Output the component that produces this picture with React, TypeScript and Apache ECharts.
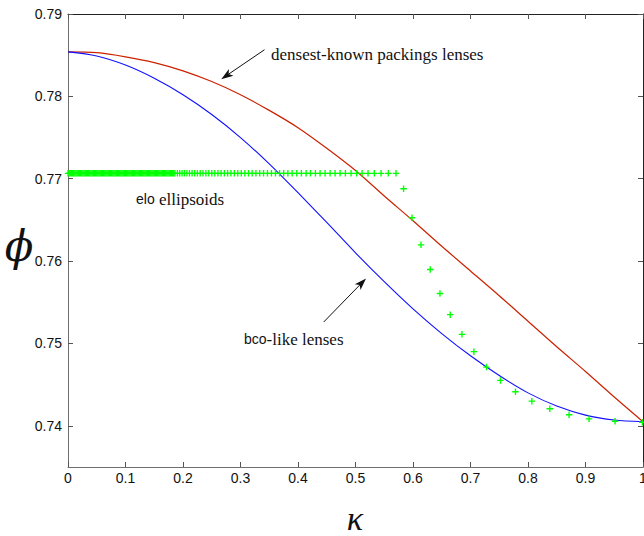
import React, { useEffect, useRef } from "react";
import * as echarts from "echarts";

// kappa grid for the two lens curves
const kappaGrid = [0, 0.05, 0.1, 0.15, 0.2, 0.25, 0.3, 0.35, 0.4, 0.45, 0.5, 0.55, 0.6, 0.65, 0.7, 0.75, 0.8, 0.85, 0.9, 0.95, 1.0];
// densest-known packings of lenses (red)
const densestLenses = [0.7854, 0.7853, 0.7848, 0.7841, 0.7831, 0.7818, 0.7802, 0.7783, 0.7762, 0.7737, 0.771, 0.7679, 0.7649, 0.7618, 0.7588, 0.7558, 0.7527, 0.7496, 0.7466, 0.7435, 0.7405];
// bco-like lenses (blue)
const bcoLenses = [0.7854, 0.7849, 0.7838, 0.7822, 0.7802, 0.7778, 0.775, 0.7718, 0.7683, 0.7647, 0.761, 0.7575, 0.7542, 0.7512, 0.7485, 0.7461, 0.744, 0.7424, 0.7413, 0.7407, 0.7405];

// elo ellipsoids (green +): flat plateau part
const eloPlateauPhi = 0.77065;
const eloPlateauKappa = [
  0, 0.002, 0.004, 0.006, 0.008, 0.01, 0.012, 0.014, 0.016, 0.018, 0.02, 0.022, 0.024, 0.026, 0.028, 0.03,
  0.032, 0.034, 0.036, 0.038, 0.04, 0.042, 0.044, 0.046, 0.048, 0.05, 0.052, 0.054, 0.056, 0.058, 0.06, 0.062,
  0.064, 0.066, 0.068, 0.07, 0.072, 0.074, 0.076, 0.078, 0.08, 0.082, 0.084, 0.086, 0.088, 0.09, 0.092, 0.094,
  0.096, 0.098, 0.1, 0.102, 0.104, 0.106, 0.108, 0.11, 0.112, 0.114, 0.116, 0.118, 0.12, 0.122, 0.124, 0.126,
  0.128, 0.13, 0.132, 0.134, 0.136, 0.138, 0.14, 0.142, 0.144, 0.146, 0.148, 0.15, 0.152, 0.154, 0.156, 0.158,
  0.16, 0.162, 0.164, 0.166, 0.168, 0.17, 0.172, 0.174, 0.176, 0.178, 0.18, 0.182, 0.184, 0.186,
  0.1903, 0.1943, 0.1984, 0.2026, 0.2069, 0.2113, 0.2158, 0.2204, 0.2251, 0.2299, 0.2348, 0.2398, 0.2449, 0.2501,
  0.2554, 0.2608, 0.2663, 0.2719, 0.2776, 0.2834, 0.2893, 0.2953, 0.3014, 0.3076, 0.3139, 0.3203, 0.3268, 0.3334,
  0.3401, 0.3469, 0.3538, 0.3608, 0.3679, 0.3751, 0.3824, 0.3898, 0.3978, 0.4059, 0.4141, 0.4216, 0.4303, 0.4384,
  0.4471, 0.4558, 0.4645, 0.4732, 0.4824, 0.4923, 0.502, 0.5114, 0.5218, 0.5327, 0.5444, 0.5571, 0.5704,
];
// elo ellipsoids: descending part
const eloTailKappa = [0.5836, 0.5982, 0.6139, 0.63, 0.6469, 0.6648, 0.6851, 0.7059, 0.7278, 0.7521, 0.7782, 0.8067, 0.8379, 0.8715, 0.9062, 0.9514, 0.9988];
const eloTailPhi = [0.76878, 0.76526, 0.76197, 0.75898, 0.75606, 0.7535, 0.75111, 0.749, 0.74713, 0.74551, 0.74414, 0.74299, 0.74207, 0.74134, 0.74085, 0.74056, 0.74044];

const yTickValues = [0.74, 0.75, 0.76, 0.77, 0.78, 0.79];

// annotation arrows (data coordinates)
const arrowDensest = { from: [0.3417, 0.78566], to: [0.2665, 0.78209] };
const arrowBco = { from: [0.4447, 0.7526], to: [0.5183, 0.75788] };

const PLUS =
  "path://M-0.21,-1 L0.21,-1 L0.21,-0.21 L1,-0.21 L1,0.21 L0.21,0.21 L0.21,1 L-0.21,1 L-0.21,0.21 L-1,0.21 L-1,-0.21 L-0.21,-0.21 Z";

const SANS = "Liberation Sans, Arial, Helvetica, sans-serif";
const SERIF = "Liberation Serif, Times New Roman, serif";
const MATH = "DejaVu Serif, Liberation Serif, serif";

export default function App() {
  const ref = useRef<HTMLDivElement>(null);

  useEffect(() => {
    if (!ref.current) return;
    document.body.style.margin = "0";
    const chart = echarts.init(ref.current, undefined, { renderer: "svg" });

    const axisLineGray = { show: true, onZero: false, lineStyle: { color: "#6e6e6e", width: 1 } };
    const axisLineDark = { show: true, onZero: false, lineStyle: { color: "#222", width: 1 } };
    const tick = { show: true, inside: true, length: 5, lineStyle: { color: "#555", width: 1 } };

    const red = kappaGrid.map((k, i) => [k, densestLenses[i]]);
    const blue = kappaGrid.map((k, i) => [k, bcoLenses[i]]);
    const green = eloPlateauKappa
      .map((k) => [k, eloPlateauPhi])
      .concat(eloTailKappa.map((k, i) => [k, eloTailPhi[i]]));

    const option: any = {
      animation: false,
      backgroundColor: "#ffffff",
      grid: { left: 68, right: 1, top: 14, bottom: 69, containLabel: false, outerBoundsMode: "none" },
      xAxis: [
        {
          type: "value",
          min: 0,
          max: 1,
          interval: 0.1,
          position: "bottom",
          axisLine: axisLineGray,
          axisTick: tick,
          axisLabel: {
            color: "#111",
            fontSize: 14,
            fontFamily: SANS,
            margin: 4,
            formatter: (v: number) => String(+v.toFixed(1)),
          },
          splitLine: { show: false },
        },
        {
          type: "value",
          min: 0,
          max: 1,
          interval: 0.1,
          position: "top",
          axisLine: axisLineDark,
          axisTick: tick,
          axisLabel: { show: false },
          splitLine: { show: false },
        },
      ],
      yAxis: [
        {
          type: "value",
          min: 0.735,
          max: 0.79,
          position: "left",
          axisLine: axisLineGray,
          axisTick: { ...tick, customValues: yTickValues },
          axisLabel: {
            customValues: yTickValues,
            color: "#111",
            fontSize: 14,
            fontFamily: SANS,
            margin: 6,
            formatter: (v: number) => v.toFixed(2),
          },
          splitLine: { show: false },
        },
        {
          type: "value",
          min: 0.735,
          max: 0.79,
          position: "right",
          axisLine: axisLineDark,
          axisTick: { ...tick, customValues: yTickValues },
          axisLabel: { show: false, customValues: yTickValues },
          splitLine: { show: false },
        },
      ],
      series: [
        {
          name: "densest-known packings lenses",
          type: "line",
          data: red,
          showSymbol: false,
          smooth: 0.3,
          lineStyle: { color: "#cc2200", width: 1.2 },
          z: 2,
        },
        {
          name: "bco-like lenses",
          type: "line",
          data: blue,
          showSymbol: false,
          smooth: 0.3,
          lineStyle: { color: "#1010ff", width: 1.1 },
          z: 3,
        },
        {
          name: "elo ellipsoids",
          type: "scatter",
          data: green,
          symbol: PLUS,
          symbolSize: 6.5,
          itemStyle: { color: "#00ff00", opacity: 1 },
          z: 4,
        },
      ],
    };
    chart.setOption(option);

    const arrow = (a: { from: number[]; to: number[] }) => {
      const p0 = chart.convertToPixel({ gridIndex: 0 }, a.from) as number[];
      const p1 = chart.convertToPixel({ gridIndex: 0 }, a.to) as number[];
      const dx = p1[0] - p0[0];
      const dy = p1[1] - p0[1];
      const len = Math.hypot(dx, dy);
      const ux = dx / len;
      const uy = dy / len;
      const nx = -uy;
      const ny = ux;
      const L = 12;
      const W = 4;
      const notch = 9;
      const back = [p1[0] - ux * L, p1[1] - uy * L];
      const mid = [p1[0] - ux * notch, p1[1] - uy * notch];
      return [
        {
          type: "line",
          shape: { x1: p0[0], y1: p0[1], x2: mid[0], y2: mid[1] },
          style: { stroke: "#111", lineWidth: 1 },
          z: 10,
        },
        {
          type: "polygon",
          shape: {
            points: [
              [p1[0], p1[1]],
              [back[0] + nx * W, back[1] + ny * W],
              [mid[0], mid[1]],
              [back[0] - nx * W, back[1] - ny * W],
            ],
          },
          style: { fill: "#111" },
          z: 10,
        },
      ];
    };

    const graphic: any[] = [
      ...arrow(arrowDensest),
      ...arrow(arrowBco),
      {
        type: "text",
        x: 271,
        y: 54,
        style: {
          text: "densest-known packings lenses",
          fontFamily: SERIF,
          fontSize: 17,
          fill: "#111",
          verticalAlign: "middle",
        },
        z: 10,
      },
      {
        type: "text",
        x: 136,
        y: 199,
        style: {
          text: "{s|elo} ellipsoids",
          fontFamily: SERIF,
          fontSize: 17,
          fill: "#111",
          verticalAlign: "middle",
          rich: { s: { fontFamily: SANS, fontSize: 14, fill: "#111" } },
        },
        z: 10,
      },
      {
        type: "text",
        x: 244,
        y: 339,
        style: {
          text: "{s|bco}-like lenses",
          fontFamily: SERIF,
          fontSize: 17,
          fill: "#111",
          verticalAlign: "middle",
          rich: { s: { fontFamily: SANS, fontSize: 14, fill: "#111" } },
        },
        z: 10,
      },
      {
        type: "text",
        x: 19,
        y: 246,
        style: {
          text: "\u03D5",
          fontFamily: MATH,
          fontStyle: "italic",
          fontSize: 42,
          lineHeight: 42,
          fill: "#111",
          align: "center",
          verticalAlign: "middle",
        },
        z: 10,
      },
      {
        type: "text",
        x: 355,
        y: 518,
        style: {
          text: "\u03BA",
          fontFamily: SERIF,
          fontStyle: "italic",
          fontSize: 34,
          lineHeight: 24,
          fill: "#111",
          align: "center",
          verticalAlign: "middle",
        },
        z: 10,
      },
    ];
    chart.setOption({ graphic });

    return () => chart.dispose();
  }, []);

  return (
    <div
      ref={ref}
      style={{ position: "absolute", left: 0, top: 0, width: 644, height: 536, background: "#fff" }}
    />
  );
}
